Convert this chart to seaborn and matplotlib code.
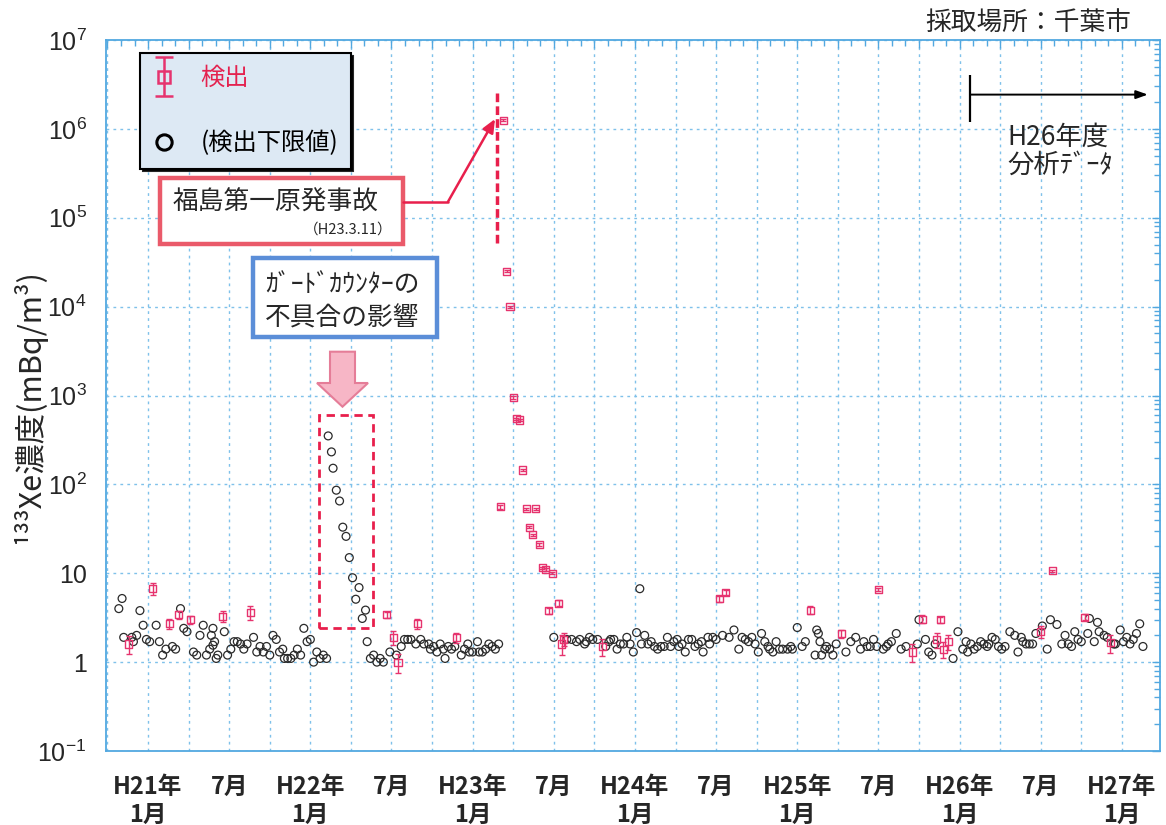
import numpy as np
import pandas as pd
import matplotlib
matplotlib.use("Agg")
import matplotlib.pyplot as plt
import seaborn as sns
from matplotlib.patches import Rectangle, Polygon
from matplotlib.lines import Line2D
from matplotlib.collections import LineCollection
from matplotlib.container import ErrorbarContainer
from matplotlib.legend_handler import HandlerErrorbar
from matplotlib.ticker import FixedLocator, LogLocator, NullFormatter

# ---------------------------------------------------------------------------
# Xe-133 in air, Chiba city.  Sampling times are given in decimal years.
# ---------------------------------------------------------------------------
# below detection limit: the plotted value is the detection limit itself
nd_time = [
    2008.82, 2008.84, 2008.85, 2008.90, 2008.91, 2008.93, 2008.95, 2008.97, 2008.99,
    2009.01, 2009.05, 2009.07, 2009.09, 2009.11, 2009.15, 2009.17, 2009.20, 2009.22,
    2009.24, 2009.28, 2009.30, 2009.32, 2009.34, 2009.36, 2009.38, 2009.39, 2009.40,
    2009.40, 2009.41, 2009.42, 2009.43, 2009.47, 2009.49, 2009.51, 2009.53, 2009.55,
    2009.57, 2009.59, 2009.61, 2009.65, 2009.67, 2009.69, 2009.71, 2009.73, 2009.75,
    2009.77, 2009.79, 2009.81, 2009.83, 2009.84, 2009.86, 2009.88, 2009.90, 2009.92,
    2009.94, 2009.96, 2009.98, 2010.00, 2010.02, 2010.04, 2010.06, 2010.08, 2010.10,
    # guard-counter malfunction period
    2010.11, 2010.13, 2010.14, 2010.16, 2010.18, 2010.20, 2010.22, 2010.24, 2010.26,
    2010.28, 2010.30, 2010.32, 2010.34,
    2010.35, 2010.37, 2010.39, 2010.41, 2010.43, 2010.45, 2010.49, 2010.53, 2010.56,
    2010.58, 2010.60, 2010.62, 2010.65, 2010.68, 2010.70, 2010.73, 2010.74, 2010.76,
    2010.78, 2010.80, 2010.82, 2010.83, 2010.85, 2010.87, 2010.89, 2010.93, 2010.95,
    2010.97, 2010.98, 2011.00, 2011.03, 2011.04, 2011.06, 2011.08, 2011.10, 2011.12,
    2011.14, 2011.16,
    2011.50, 2011.58, 2011.61, 2011.64, 2011.66, 2011.69, 2011.70, 2011.72, 2011.74,
    2011.77, 2011.82, 2011.84, 2011.85, 2011.87, 2011.89, 2011.91, 2011.93, 2011.95,
    2011.97, 2011.99, 2012.01, 2012.03, 2012.04, 2012.06, 2012.08, 2012.10, 2012.12,
    2012.14, 2012.16, 2012.18, 2012.20, 2012.22, 2012.24, 2012.26, 2012.27, 2012.29,
    2012.31, 2012.33, 2012.35, 2012.37, 2012.39, 2012.41, 2012.42, 2012.45, 2012.46,
    2012.48, 2012.50, 2012.54, 2012.58, 2012.61, 2012.64, 2012.66, 2012.68, 2012.70,
    2012.72, 2012.74, 2012.76, 2012.78, 2012.80, 2012.82, 2012.83, 2012.85, 2012.87,
    2012.89, 2012.91, 2012.94, 2012.96, 2012.97, 2013.00, 2013.03, 2013.05, 2013.11,
    2013.12, 2013.13, 2013.14, 2013.15, 2013.17, 2013.18, 2013.20, 2013.22, 2013.24,
    2013.30, 2013.33, 2013.36, 2013.39, 2013.41, 2013.43, 2013.45, 2013.47, 2013.49,
    2013.53, 2013.55, 2013.56, 2013.58, 2013.61, 2013.64, 2013.67, 2013.74, 2013.75,
    2013.79, 2013.81, 2013.83, 2013.85, 2013.96, 2013.99, 2014.02, 2014.04, 2014.05,
    2014.07, 2014.09, 2014.11, 2014.13, 2014.15, 2014.17, 2014.18, 2014.20, 2014.22,
    2014.24, 2014.26, 2014.28, 2014.31, 2014.34, 2014.36, 2014.38, 2014.39, 2014.41,
    2014.43, 2014.45, 2014.47, 2014.51, 2014.54, 2014.56, 2014.60, 2014.63, 2014.65,
    2014.67, 2014.69, 2014.71, 2014.73, 2014.75, 2014.79, 2014.80, 2014.83, 2014.85,
    2014.86, 2014.89, 2014.91, 2014.95, 2014.96, 2014.99, 2015.01, 2015.03, 2015.05,
    2015.07, 2015.09, 2015.11, 2015.13,
]
nd_value = [
    4.0, 5.2, 1.9, 1.9, 1.7, 2.0, 3.8, 2.6, 1.8,
    1.7, 2.6, 1.7, 1.2, 1.4, 1.5, 1.4, 4.0, 2.4,
    2.2, 1.3, 1.2, 2.0, 2.6, 1.2, 1.4, 2.0, 1.55,
    2.4, 1.7, 1.1, 1.2, 2.2, 1.2, 1.4, 1.7, 1.7,
    1.6, 1.4, 1.6, 1.9, 1.3, 1.5, 1.3, 1.5, 1.2,
    2.0, 1.8, 1.3, 1.4, 1.1, 1.1, 1.1, 1.2, 1.4,
    1.2, 2.4, 1.7, 1.8, 1.0, 1.3, 1.1, 1.2, 1.1,
    351, 232, 152, 86, 65, 33, 26, 15, 8.9,
    5.1, 6.9, 3.1, 3.85,
    1.7, 1.1, 1.2, 1.0, 1.1, 1.0, 1.3, 1.2, 1.5,
    1.8, 1.8, 1.8, 1.6, 1.8, 1.6, 1.6, 1.4, 1.5,
    1.3, 1.6, 1.4, 1.1, 1.5, 1.4, 1.5, 1.2, 1.4,
    1.6, 1.3, 1.3, 1.7, 1.3, 1.3, 1.4, 1.6, 1.5,
    1.4, 1.6,
    1.9, 1.8, 1.8, 1.7, 1.8, 1.6, 1.7, 1.9, 1.8,
    1.8, 1.5, 1.7, 1.8, 1.8, 1.4, 1.6, 1.6, 1.9,
    1.6, 1.3, 2.15, 6.7, 1.6, 2.0, 1.6, 1.7, 1.5,
    1.4, 1.5, 1.5, 1.9, 1.5, 1.7, 1.8, 1.5, 1.6,
    1.3, 1.8, 1.8, 1.5, 1.6, 1.7, 1.3, 1.9, 1.6,
    1.9, 1.8, 2.0, 1.9, 2.3, 1.4, 1.9, 1.8, 1.7,
    1.9, 1.6, 1.3, 2.1, 1.7, 1.5, 1.4, 1.3, 1.7,
    1.4, 1.4, 1.4, 1.5, 1.4, 2.45, 1.5, 1.7, 1.2,
    2.3, 2.1, 1.7, 1.2, 1.4, 1.5, 1.4, 1.2, 1.6,
    1.3, 1.7, 1.9, 1.4, 1.7, 1.5, 1.5, 1.8, 1.5,
    1.4, 1.5, 1.6, 1.7, 2.1, 1.4, 1.5, 1.6, 3.0,
    1.8, 1.3, 1.2, 1.6, 1.1, 2.2, 1.4, 1.7, 1.3,
    1.6, 1.4, 1.5, 1.7, 1.6, 1.5, 1.6, 1.9, 1.8,
    1.5, 1.4, 1.5, 2.2, 2.0, 1.3, 1.9, 1.7, 1.6,
    1.6, 1.6, 2.1, 2.55, 1.4, 3.0, 2.65, 1.6, 2.0,
    1.6, 1.5, 2.2, 1.8, 1.7, 2.1, 3.1, 1.7, 2.8,
    2.2, 2.0, 1.9, 1.6, 1.6, 2.3, 1.7, 1.9, 1.6,
    1.8, 2.1, 2.7, 1.5,
]

# detected: measured value with its counting uncertainty
det_time = [
    2008.88, 2009.03, 2009.13, 2009.19, 2009.26, 2009.46, 2009.63,
    2010.47, 2010.51, 2010.54, 2010.66, 2010.90,
    2011.17, 2011.19, 2011.21, 2011.23, 2011.25, 2011.27, 2011.29, 2011.31,
    2011.33, 2011.35, 2011.37, 2011.39, 2011.41, 2011.43, 2011.45, 2011.47,
    2011.49, 2011.53, 2011.55, 2011.56, 2011.80,
    2012.52, 2012.56, 2013.08, 2013.27, 2013.50,
    2013.71, 2013.77, 2013.86, 2013.88, 2013.90, 2013.93,
    2014.50, 2014.57, 2014.77, 2014.93,
]
det_value = [
    1.6, 6.7, 2.7, 3.4, 3.0, 3.3, 3.6,
    3.4, 1.9, 1.0, 2.7, 1.9,
    56, 1.25e6, 2.5e4, 1.0e4, 950, 550, 530, 145,
    53, 33, 27, 53, 21, 11.5, 11, 3.8,
    10, 4.6, 1.6, 1.8, 1.5,
    5.2, 6.1, 3.85, 2.1, 6.6,
    1.3, 3.05, 1.8, 3.0, 1.4, 1.7,
    2.2, 10.7, 3.2, 1.66,
]
det_err = [
    0.35, 1.0, 0.35, 0.35, 0.3, 0.5, 0.65,
    0.25, 0.35, 0.25, 0.35, 0.25,
    2.5, 3.0e4, 600, 250, 25, 15, 15, 4,
    1.5, 1.0, 0.8, 1.5, 0.7, 0.4, 0.4, 0.3,
    0.3, 0.35, 0.4, 0.3, 0.33,
    0.4, 0.45, 0.4, 0.22, 0.3,
    0.3, 0.3, 0.35, 0.25, 0.28, 0.33,
    0.35, 0.3, 0.25, 0.38,
]

# axis labelling
tick_pos = [2009.0, 2009.5, 2010.0, 2010.5, 2011.0, 2011.5, 2012.0,
            2012.5, 2013.0, 2013.5, 2014.0, 2014.5, 2015.0]
tick_labels = ["H21年\n1月", "7月", "H22年\n1月", "7月", "H23年\n1月", "7月",
               "H24年\n1月", "7月", "H25年\n1月", "7月", "H26年\n1月", "7月",
               "H27年\n1月"]
y_ticks = [0.1, 1, 10, 1e2, 1e3, 1e4, 1e5, 1e6, 1e7]
y_tick_labels = [r"$\mathregular{10^{-1}}$", "1", "10", r"$\mathregular{10^{2}}$",
                 r"$\mathregular{10^{3}}$", r"$\mathregular{10^{4}}$",
                 r"$\mathregular{10^{5}}$", r"$\mathregular{10^{6}}$",
                 r"$\mathregular{10^{7}}$"]

accident_mark = 2011.15          # H23.3.11
malfunction_span = (2010.054, 2010.386, 2.4, 598)
fy2014_start, fy2014_arrow_end = 2014.065, 2015.16

# ---------------------------------------------------------------------------
sns.set_style("white")
plt.rcParams["font.family"] = ["Noto Sans CJK JP", "DejaVu Sans"]
plt.rcParams["mathtext.fontset"] = "custom"
plt.rcParams["mathtext.rm"] = "Liberation Sans"
plt.rcParams["axes.unicode_minus"] = False

PINK = "#e6336e"
PINK_TEXT = "#e4224f"
RED = "#e81f4c"
BLUE_SPINE = "#52a8e0"
BLUE_GRID = "#7fc1ea"

W_PX, H_PX = 1166, 825


def fig_xy(px, py):
    return px / W_PX, 1 - py / H_PX


fig = plt.figure(figsize=(W_PX / 100, H_PX / 100), dpi=100)
fig.patch.set_facecolor("white")
ax = fig.add_axes([106 / W_PX, 1 - 751 / H_PX, (1160 - 106) / W_PX, (751 - 40) / H_PX])

nd = pd.DataFrame({"time": nd_time, "value": nd_value})
det = pd.DataFrame({"time": det_time, "value": det_value, "err": det_err})

ax.set_yscale("log")
ax.set_ylim(0.1, 1e7)
ax.set_xlim(2008.741, 2015.235)

# below-limit points
sns.scatterplot(data=nd, x="time", y="value", ax=ax, marker="o", s=32,
                facecolor="none", edgecolor="#2a2a2a", linewidth=0.9,
                legend=False, zorder=3)
# detected points with error bars
ax.errorbar(det["time"], det["value"], yerr=det["err"], fmt="none",
            ecolor=PINK, elinewidth=1.0, capsize=2.5, capthick=1.0, zorder=4)
sns.scatterplot(data=det, x="time", y="value", ax=ax, marker="s", s=26,
                facecolor="none", edgecolor=PINK, linewidth=1.0,
                legend=False, zorder=5)

# x axis: quarterly grid, labels every half year, monthly minor ticks
quarters = np.arange(2008.75, 2015.01, 0.25)
qlabels = []
for q in quarters:
    match = [lab for p, lab in zip(tick_pos, tick_labels) if abs(p - q) < 1e-6]
    qlabels.append(match[0] if match else "")
ax.set_xticks(quarters)
ax.set_xticklabels(qlabels, fontsize=17, fontweight="bold", linespacing=1.2)
ax.xaxis.set_minor_locator(FixedLocator(np.arange(2008.75, 2015.24, 1 / 12)))

# y axis
ax.yaxis.set_major_locator(FixedLocator(y_ticks))
ax.set_yticklabels(y_tick_labels, fontsize=18, fontfamily="Liberation Sans")
ax.yaxis.set_minor_locator(LogLocator(base=10, subs=np.arange(2, 10), numticks=20))
ax.yaxis.set_minor_formatter(NullFormatter())

ax.grid(which="major", axis="both", color=BLUE_GRID, linestyle=(0, (2, 3)), linewidth=1.0)
ax.set_axisbelow(True)
ax.tick_params(which="both", direction="in", top=True, right=True,
               color=BLUE_SPINE, width=1.0)
ax.tick_params(which="major", length=6)
ax.tick_params(which="minor", length=4)
ax.tick_params(axis="y", which="major", pad=14)
ax.tick_params(axis="x", which="major", pad=17)
for s in ax.spines.values():
    s.set_color(BLUE_SPINE)
    s.set_linewidth(1.3)

ax.set_xlabel("")
ax.set_ylabel("¹³³Xe濃度(mBq/m³)", fontsize=22)
ax.yaxis.set_label_coords(-0.057, 0.485)

# legend
sq = Line2D([], [], ls="none", marker="s", ms=9, mfc="none", mec=PINK, mew=1.8, color=PINK)
cap = Line2D([], [], ls="none", marker="_", ms=13, mew=1.8, color=PINK)
bars = LineCollection([], colors=PINK, linewidths=1.8)
det_handle = ErrorbarContainer((sq, (cap,), (bars,)), has_xerr=False, has_yerr=True)
nd_handle = Line2D([], [], ls="none", marker="o", ms=11, mfc="none", mec="black", mew=2.2)
leg = ax.legend([det_handle, nd_handle], ["検出", "(検出下限値)"],
                handler_map={ErrorbarContainer: HandlerErrorbar(xerr_size=0.5, yerr_size=0.8)},
                loc="upper left", bbox_to_anchor=((140 - 106) / 1054, (751 - 53) / 711),
                borderaxespad=0, fontsize=17.5, labelcolor=[PINK_TEXT, "black"],
                frameon=True, fancybox=False, framealpha=1, facecolor="#dde9f4",
                edgecolor="black", borderpad=0.5, labelspacing=1.62,
                handlelength=1.0, handletextpad=1.0,
                shadow={"color": "black", "alpha": 0.85})
leg.get_frame().set_linewidth(1.5)
leg.set_zorder(10)

# accident marker
ax.vlines(accident_mark, 5.2e4, 2.6e6, colors=RED, linestyles=(0, (2.5, 1.2)),
          linewidth=2.5, zorder=6)

# malfunction window
x0, x1, y0, y1 = malfunction_span
ax.add_patch(Rectangle((x0, y0), x1 - x0, y1 - y0, fill=False, edgecolor=RED,
                       linestyle=(0, (3, 2)), linewidth=2, zorder=6))

# FY2014 analysis period
ax.vlines(fy2014_start, 1.2e6, 4.05e6, colors="black", linewidth=1.6, zorder=6)
ax.annotate("", xy=(fy2014_arrow_end, 2.43e6), xytext=(fy2014_start, 2.43e6),
            arrowprops=dict(arrowstyle="-|>,head_length=0.7,head_width=0.25",
                            color="black", lw=1.4, shrinkA=0, shrinkB=0), zorder=6)
fig.text(*fig_xy(1007, 137), "H26年度", fontsize=19, ha="left", va="center")
fig.text(*fig_xy(1007, 165), "分析ﾃﾞｰﾀ", fontsize=19, ha="left", va="center")

# accident callout
bx0, by0 = fig_xy(160, 244)
bx1, by1 = fig_xy(402.7, 178.3)
fig.add_artist(Rectangle((bx0, by0), bx1 - bx0, by1 - by0, transform=fig.transFigure,
                         facecolor="white", edgecolor="#ea5a6a", linewidth=3.2, zorder=8))
fig.text(*fig_xy(276, 203), "福島第一原発事故", fontsize=18.5, ha="center", va="center", zorder=9)
fig.text(*fig_xy(393, 230), "（H23.3.11）", fontsize=10.5, ha="right", va="center", zorder=9)
fig.add_artist(Line2D([fig_xy(402.7, 0)[0], fig_xy(448, 0)[0]],
                      [fig_xy(0, 201.7)[1]] * 2, transform=fig.transFigure,
                      color=RED, linewidth=1.8, zorder=8))
ax.annotate("", xy=fig_xy(495, 119), xycoords="figure fraction",
            xytext=fig_xy(448, 201.7), textcoords="figure fraction",
            arrowprops=dict(arrowstyle="-|>,head_length=0.8,head_width=0.35",
                            color=RED, lw=1.8, shrinkA=0, shrinkB=0), zorder=8)

# malfunction callout
gx0, gy0 = fig_xy(252.7, 336.7)
gx1, gy1 = fig_xy(437.3, 258.3)
fig.add_artist(Rectangle((gx0, gy0), gx1 - gx0, gy1 - gy0, transform=fig.transFigure,
                         facecolor="white", edgecolor="#5b8ed8", linewidth=3.2, zorder=8))
fig.text(*fig_xy(265, 285), "ｶﾞｰﾄﾞｶｳﾝﾀｰの", fontsize=18.5, ha="left", va="center", zorder=9)
fig.text(*fig_xy(265, 318), "不具合の影響", fontsize=18.5, ha="left", va="center", zorder=9)
arrow_px = [(330, 351.7), (355, 351.7), (355, 383), (368, 383), (342.5, 406.7),
            (317, 383), (330, 383)]
fig.add_artist(Polygon([fig_xy(px, py) for px, py in arrow_px], closed=True,
                       transform=fig.transFigure, facecolor="#f7b6c6",
                       edgecolor="#e57d98", linewidth=1.5, zorder=8))

# sampling site
fig.text(*fig_xy(1131, 24), "採取場所：千葉市", fontsize=18.5, ha="right", va="center")

fig.savefig("out.png", dpi=100, facecolor="white")
